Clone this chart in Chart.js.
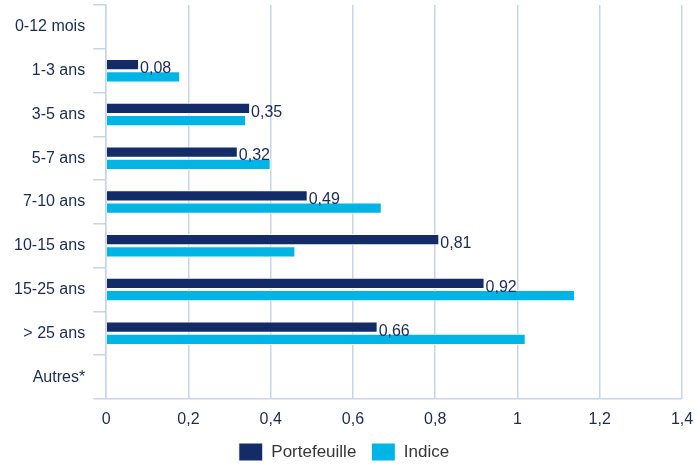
<!DOCTYPE html>
<html>
<head>
<meta charset="utf-8">
<script src="https://cdn.jsdelivr.net/npm/chart.js@4/dist/chart.umd.min.js"></script>
<style>
  html, body { margin: 0; padding: 0; background: #fff; }
  #wrap { width: 698px; height: 467px; }
</style>
</head>
<body>
<div id="wrap"><canvas id="durationChart"></canvas></div>
<script>
const categories = ["0-12 mois", "1-3 ans", "3-5 ans", "5-7 ans", "7-10 ans", "10-15 ans", "15-25 ans", "> 25 ans", "Autres*"];
const portefeuille = [null, 0.08, 0.35, 0.32, 0.49, 0.81, 0.92, 0.66, null];
const indice = [null, 0.18, 0.34, 0.40, 0.67, 0.46, 1.14, 1.02, null];
const xTicks = [0, 0.2, 0.4, 0.6, 0.8, 1, 1.2, 1.4];

const navy = "#132b66";
const cyan = "#00b4e6";
const gridColor = "#c8d5e8";
const textColor = "#1b2a55";
const family = "'Liberation Sans', Arial, sans-serif";

const fmt = v => String(Math.round(v * 100) / 100).replace(".", ",");

// value labels after the Portefeuille bars
const barLabels = {
    id: "barLabels",
    afterDatasetsDraw(chart) {
        const ctx = chart.ctx;
        const meta = chart.getDatasetMeta(0);
        ctx.save();
        ctx.font = "16px " + family;
        ctx.fillStyle = textColor;
        ctx.textAlign = "left";
        ctx.textBaseline = "middle";
        meta.data.forEach((bar, i) => {
            const v = portefeuille[i];
            if (v === null) return;
            ctx.fillText(fmt(v), bar.x + 1, bar.y + 4);
        });
        ctx.restore();
    }
};

new Chart(document.getElementById("durationChart"), {
    type: "bar",
    data: {
        labels: categories,
        datasets: [{
            label: "Portefeuille",
            data: portefeuille,
            backgroundColor: navy,
            borderColor: "#ffffff",
            borderWidth: 1,
            barPercentage: 0.92,
            categoryPercentage: 0.56
        }, {
            label: "Indice",
            data: indice,
            backgroundColor: cyan,
            borderColor: "#ffffff",
            borderWidth: 1,
            barPercentage: 0.92,
            categoryPercentage: 0.56
        }]
    },
    options: {
        indexAxis: "y",
        responsive: true,
        maintainAspectRatio: false,
        animation: false,
        layout: { padding: { top: 5, right: 16, left: 6, bottom: -4 } },
        plugins: {
            legend: {
                position: "bottom",
                labels: {
                    color: "#363636",
                    font: { family: family, size: 17 },
                    boxWidth: 24,
                    boxHeight: 18,
                    padding: 15
                }
            },
            tooltip: { enabled: false }
        },
        scales: {
            x: {
                min: 0,
                max: 1.4,
                afterBuildTicks: axis => { axis.ticks = xTicks.map(v => ({ value: v })); },
                afterFit: axis => { axis.height = 29; axis.paddingRight = 0; },
                grid: { color: gridColor, lineWidth: 1.5, drawTicks: false },
                border: { color: gridColor, width: 1.5 },
                ticks: {
                    color: textColor,
                    padding: 11,
                    font: { family: family, size: 16 },
                    callback: v => fmt(v)
                }
            },
            y: {
                afterFit: axis => { axis.paddingTop = 0; axis.paddingBottom = 0; },
                grid: { drawOnChartArea: false, color: gridColor, lineWidth: 1.5, tickLength: 13 },
                border: { color: gridColor, width: 1.5 },
                ticks: {
                    color: textColor,
                    padding: 8,
                    font: { family: family, size: 16 }
                }
            }
        }
    },
    plugins: [barLabels]
});
</script>
</body>
</html>
